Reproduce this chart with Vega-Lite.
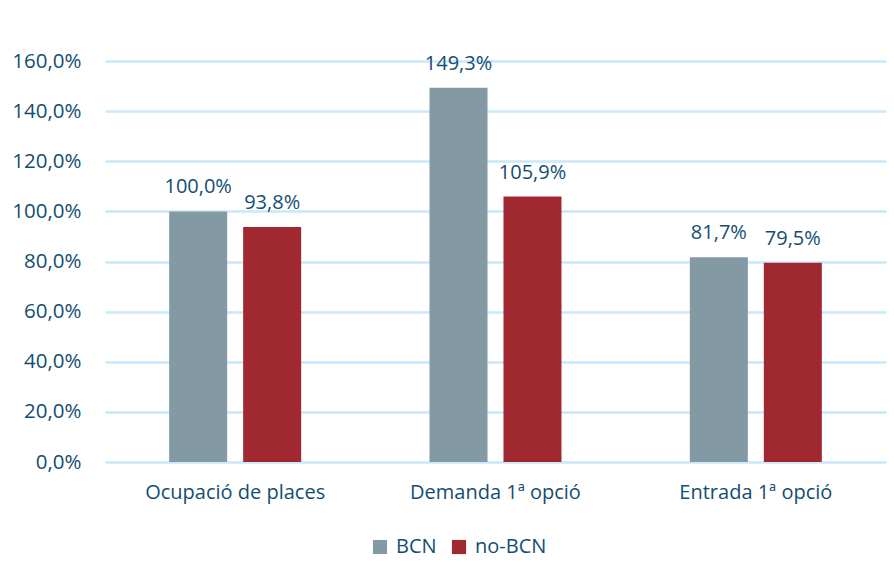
{
  "$schema": "https://vega.github.io/schema/vega-lite/v6.json",
  "autosize": {"type": "none"},
  "width": 781,
  "height": 401,
  "padding": {"left": 105, "top": 61, "right": 8, "bottom": 100},
  "background": "white",
  "config": {
    "locale": {"number": {"decimal": ",", "thousands": ".", "grouping": [3], "currency": ["", " €"]}},
    "view": {"stroke": null},
    "font": "Open Sans"
  },
  "data": {
    "values": [
      {"categoria": "Ocupació de places", "grup": "BCN", "valor": 1.0},
      {"categoria": "Ocupació de places", "grup": "no-BCN", "valor": 0.938},
      {"categoria": "Demanda 1ª opció", "grup": "BCN", "valor": 1.493},
      {"categoria": "Demanda 1ª opció", "grup": "no-BCN", "valor": 1.059},
      {"categoria": "Entrada 1ª opció", "grup": "BCN", "valor": 0.817},
      {"categoria": "Entrada 1ª opció", "grup": "no-BCN", "valor": 0.795}
    ]
  },
  "encoding": {
    "x": {
      "field": "categoria", "type": "nominal",
      "sort": ["Ocupació de places", "Demanda 1ª opció", "Entrada 1ª opció"],
      "scale": {"paddingInner": 0.493, "paddingOuter": 0.2465},
      "axis": {"title": null, "labelAngle": 0, "domain": false, "ticks": false, "labelPadding": 20, "labelFontSize": 20, "labelLimit": 0, "labelColor": "#134E72", "labelFont": "Open Sans"}
    },
    "xOffset": {
      "field": "grup", "type": "nominal",
      "scale": {"paddingInner": 0.216, "paddingOuter": 0}
    },
    "y": {
      "field": "valor", "type": "quantitative",
      "scale": {"domain": [0, 1.6], "nice": false},
      "axis": {"title": null, "format": ".1%", "values": [0, 0.2, 0.4, 0.6, 0.8, 1.0, 1.2, 1.4, 1.6], "domain": false, "ticks": false, "labelPadding": 24, "labelFontSize": 20.5, "labelColor": "#134E72", "labelFont": "Open Sans", "gridColor": "#C9E9FA", "gridWidth": 2.5, "gridOpacity": 1}
    }
  },
  "layer": [
    {
      "mark": {"type": "bar"},
      "encoding": {
        "color": {
          "field": "grup", "type": "nominal",
          "scale": {"domain": ["BCN", "no-BCN"], "range": ["#8399A3", "#A02831"]},
          "legend": {"title": null, "orient": "none", "legendX": 265, "legendY": 476, "direction": "horizontal", "symbolType": "square", "symbolSize": 200, "symbolStrokeWidth": 0, "labelFontSize": 20, "labelColor": "#134E72", "labelFont": "Open Sans", "columnPadding": 12, "labelOffset": 6}
        }
      }
    },
    {
      "mark": {"type": "text", "baseline": "bottom", "dy": -14, "fontSize": 20, "color": "#134E72", "font": "Open Sans"},
      "encoding": {
        "text": {"field": "valor", "type": "quantitative", "format": ".1%"}
      }
    }
  ]
}
